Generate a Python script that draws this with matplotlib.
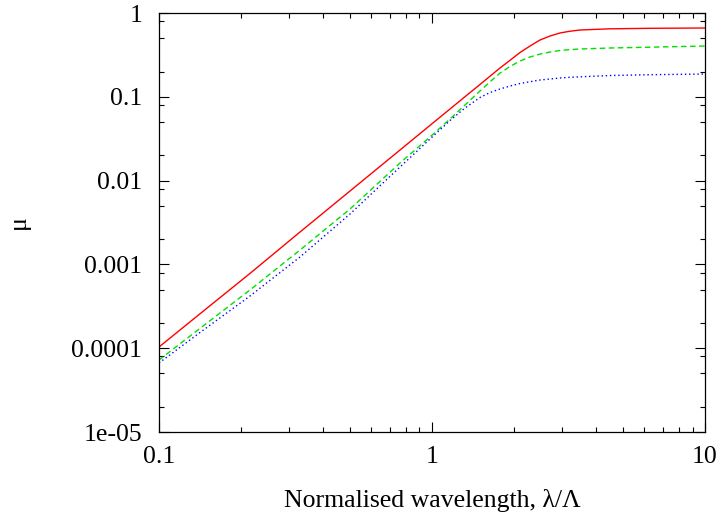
import matplotlib
matplotlib.use("Agg")
from matplotlib import pyplot as plt
from matplotlib.ticker import LogLocator, NullFormatter

# values (log-log)
wavelength = [0.1, 0.1413, 0.2154, 0.3285, 0.5008, 0.7636, 0.9833, 1.164, 1.321, 1.499, 1.631, 1.775,
              1.931, 2.101, 2.286, 2.487, 2.706, 2.943, 3.203, 3.485, 4.487, 6.288, 10.0]
mu_red = [1.033e-4, 2.573e-4, 7.8e-4, 2.435e-3, 7.51e-3, 0.02318, 0.0456, 0.0715, 0.1003, 0.1402, 0.1761, 0.2207,
          0.2726, 0.3378, 0.4039, 0.4763, 0.5314, 0.5774, 0.6063, 0.6268, 0.6478, 0.6567, 0.6622]
mu_green = [7.23e-5, 1.722e-4, 4.95e-4, 1.485e-3, 4.58e-3, 0.01622, 0.03314, 0.0543, 0.0798, 0.1173, 0.1510, 0.1923,
            0.2299, 0.2675, 0.2985, 0.324, 0.3424, 0.3568, 0.3659, 0.372, 0.3823, 0.3908, 0.4039]
mu_blue = [6.66e-5, 1.539e-4, 4.196e-4, 1.226e-3, 3.995e-3, 0.01453, 0.03136, 0.05215, 0.0735, 0.09808, 0.1125, 0.1239,
           0.1345, 0.1441, 0.1514, 0.1586, 0.1631, 0.1676, 0.1709, 0.1732, 0.1795, 0.1835, 0.1871]

x_ticks = [0.1, 1, 10]
x_labels = ["0.1", "1", "10"]
y_ticks = [1e-5, 1e-4, 1e-3, 1e-2, 1e-1, 1]
y_labels = ["1e-05", "0.0001", "0.001", "0.01", "0.1", "1"]

plt.rcParams['font.family'] = ['Liberation Serif', 'DejaVu Serif']

fig = plt.figure(figsize=(7.18, 5.14), dpi=100)
ax = fig.add_axes([0.2214, 0.1595, 0.7605, 0.8152])

ax.plot(wavelength, mu_red, color="#ff0000", lw=1.0, ls="-")
ax.plot(wavelength, mu_green, color="#00e000", lw=1.0, ls=(0, (4, 2.5)))
ax.plot(wavelength, mu_blue, color="#0000ff", lw=1.0, ls=(0, (1, 2)))

ax.set_xscale("log")
ax.set_yscale("log")
ax.set_xlim(0.1, 10)
ax.set_ylim(1e-5, 1)

ax.set_xticks(x_ticks)
ax.set_xticklabels(x_labels)
ax.set_yticks(y_ticks)
ax.set_yticklabels(y_labels)
ax.xaxis.set_minor_locator(LogLocator(base=10, subs=range(2, 10)))
ax.yaxis.set_minor_locator(LogLocator(base=10, subs=[2, 5, 8]))
ax.xaxis.set_minor_formatter(NullFormatter())
ax.yaxis.set_minor_formatter(NullFormatter())

ax.tick_params(which="both", direction="in", top=True, right=True, labelsize=18.5, width=0.8)
ax.tick_params(which="major", length=7)
ax.tick_params(which="minor", length=3.5)
ax.tick_params(axis="x", which="major", pad=10)
ax.tick_params(axis="y", which="major", pad=12)
for s in ax.spines.values():
    s.set_linewidth(0.9)

ax.set_xlabel("Normalised wavelength, λ/Λ", fontsize=18.5, labelpad=15)
ax.set_ylabel("μ", fontsize=18.5, labelpad=30)

fig.savefig("out.png", dpi=100)
